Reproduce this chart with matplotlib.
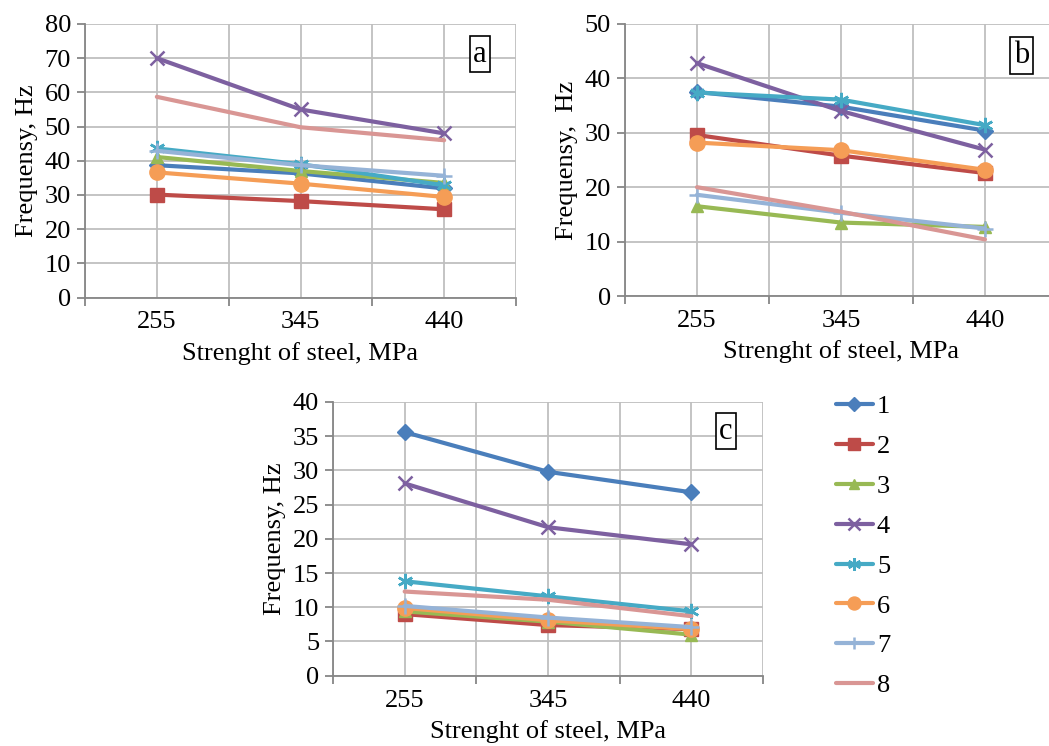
import matplotlib
matplotlib.use("Agg")
import matplotlib.pyplot as plt
from matplotlib.ticker import FixedLocator, MultipleLocator

plt.rcParams['font.family'] = ['Liberation Serif', 'DejaVu Serif']

strength = ['255', '345', '440']
series_names = ['1', '2', '3', '4', '5', '6', '7', '8']

# Panel a values (series 1..8)
freq_a = [
    [38.7, 36.3, 31.9],
    [30.1, 28.2, 25.8],
    [41.1, 37.0, 33.5],
    [70.0, 55.0, 48.0],
    [43.6, 39.0, 32.8],
    [36.6, 33.3, 29.4],
    [42.9, 38.7, 35.6],
    [58.7, 49.8, 46.0],
]
# Panel b values
freq_b = [
    [37.5, 34.8, 30.4],
    [29.6, 25.8, 22.6],
    [16.5, 13.5, 12.7],
    [42.8, 34.0, 26.9],
    [37.4, 36.1, 31.4],
    [28.2, 26.8, 23.2],
    [18.6, 15.3, 12.4],
    [20.0, 15.5, 10.4],
]
# Panel c values
freq_c = [
    [35.6, 29.8, 26.8],
    [9.0, 7.4, 6.8],
    [9.4, 7.9, 6.0],
    [28.1, 21.7, 19.2],
    [13.8, 11.6, 9.4],
    [9.9, 8.1, 6.8],
    [10.2, 8.5, 7.1],
    [12.3, 11.1, 8.7],
]

colors = ['#4A7EBB', '#BE4B48', '#98B954', '#7D60A0', '#46AAC5', '#F59D56', '#95B3D7', '#D99694']
markers = ['D', 's', '^', 'x', (6, 2, 0), 'o', '+', None]
msizes = [8, 10, 9, 10, 11, 11, 11, 0]

W, H = 1049, 746
fig = plt.figure(figsize=(W / 100, H / 100), dpi=100)

FS = 19
GRID = '#BFBFBF'
AXC = '#868686'


def px_axes(l, t, r, b):
    return fig.add_axes([l / W, 1 - b / H, (r - l) / W, (b - t) / H])


def setup(ax, data, ymax, ystep, ylabel, letter, lx, ly):
    x = list(range(len(strength)))
    handles = []
    for i, vals in enumerate(data):
        h, = ax.plot(x, vals, color=colors[i], lw=3, marker=markers[i],
                     markersize=msizes[i], markeredgewidth=1.8 if markers[i] in ('x', '+', (6, 2, 0)) else 1,
                     markeredgecolor=colors[i], markerfacecolor=colors[i],
                     solid_capstyle='round', label=series_names[i], zorder=3 + i)
        handles.append(h)
    ax.set_xlim(-0.5, len(strength) - 0.5)
    ax.set_ylim(0, ymax)
    ax.xaxis.set_major_locator(FixedLocator(x))
    ax.set_xticklabels(strength)
    ax.xaxis.set_minor_locator(FixedLocator([-0.5, 0.5, 1.5, 2.5]))
    ax.yaxis.set_major_locator(MultipleLocator(ystep))
    ax.grid(True, which='both', axis='x', color=GRID, lw=1.3, zorder=0)
    ax.grid(True, which='major', axis='y', color=GRID, lw=1.3, zorder=0)
    ax.set_axisbelow(True)
    for s in ('top', 'right'):
        ax.spines[s].set_visible(False)
    for s in ('left', 'bottom'):
        ax.spines[s].set_color(AXC)
        ax.spines[s].set_linewidth(1.3)
    ax.tick_params(axis='x', which='major', length=0, labelsize=FS, pad=10)
    ax.tick_params(axis='x', which='minor', length=6, width=1.3, color=AXC, direction='out')
    ax.tick_params(axis='y', which='major', length=6, width=1.3, color=AXC, labelsize=FS, pad=4)
    ax.set_xlabel('Strenght of steel, MPa', fontsize=FS, labelpad=6)
    ax.set_ylabel(ylabel, fontsize=FS, labelpad=5)
    ax.text(lx, ly, letter, transform=ax.transAxes, fontsize=22, ha='center', va='center',
            bbox=dict(facecolor='white', edgecolor='black', boxstyle='square,pad=0.12', lw=1.2),
            zorder=20)
    return handles


ax_a = px_axes(85, 24, 516, 297.5)
setup(ax_a, freq_a, 80, 10, 'Frequensy, Hz', 'a', 0.9165, 0.89)

ax_b = px_axes(625, 24, 1057, 296)
setup(ax_b, freq_b, 50, 10, 'Frequensy,  Hz', 'b', 0.918, 0.884)

ax_c = px_axes(333, 402, 763, 675.7)
handles = setup(ax_c, freq_c, 40, 5, 'Frequensy, Hz', 'c', 0.914, 0.894)

fig.legend(handles=handles, labels=series_names, loc='upper left',
           bbox_to_anchor=(836 / W, 1 - 395 / H), frameon=False, fontsize=FS,
           handlelength=1.4, handletextpad=0.15, labelspacing=0.62, borderpad=0,
           borderaxespad=0, markerscale=0.85)

fig.savefig('out.png', dpi=100)
